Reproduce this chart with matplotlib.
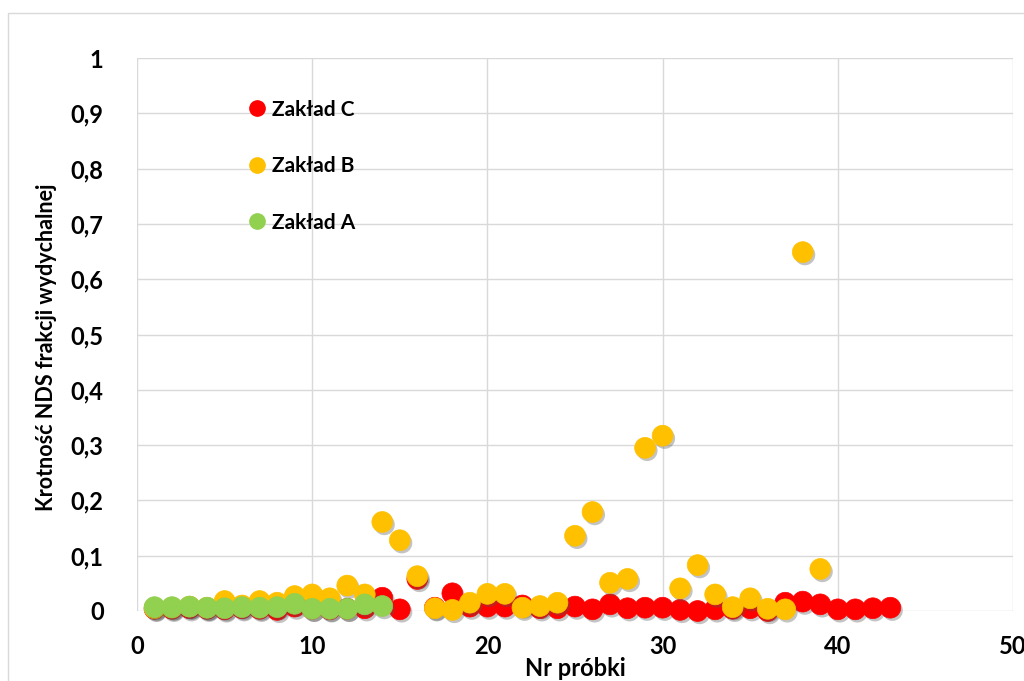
import matplotlib
matplotlib.use("Agg")
import matplotlib.pyplot as plt
import matplotlib.patheffects as pe
from matplotlib.lines import Line2D
from matplotlib.patches import Rectangle

plt.rcParams['font.family'] = ['Lato', 'DejaVu Sans']

# --- data ---
x_c = list(range(1, 44))
y_c = [0.004, 0.004, 0.005, 0.004, 0.003, 0.005, 0.004, 0.002, 0.008, 0.004,
       0.003, 0.004, 0.005, 0.024, 0.003, 0.058, 0.006, 0.032, 0.008, 0.008,
       0.008, 0.010, 0.005, 0.005, 0.008, 0.003, 0.012, 0.005, 0.006, 0.006,
       0.002, 0.000, 0.003, 0.004, 0.005, 0.000, 0.015, 0.017, 0.012, 0.003,
       0.003, 0.005, 0.006]

x_b = list(range(1, 40))
y_b = [0.005, 0.006, 0.008, 0.006, 0.018, 0.010, 0.018, 0.015, 0.027, 0.030,
       0.023, 0.046, 0.030, 0.161, 0.128, 0.063, 0.005, 0.002, 0.015, 0.031,
       0.031, 0.006, 0.009, 0.015, 0.136, 0.179, 0.051, 0.058, 0.295, 0.317,
       0.041, 0.083, 0.030, 0.007, 0.023, 0.004, 0.003, 0.649, 0.076]

x_a = list(range(1, 15))
y_a = [0.007, 0.007, 0.008, 0.006, 0.005, 0.007, 0.006, 0.007, 0.013, 0.004,
       0.004, 0.004, 0.012, 0.009]

names = ['Zakład C', 'Zakład B', 'Zakład A']
colors = ['#FF0000', '#FFC000', '#92D050']

xticks = [0, 10, 20, 30, 40, 50]
yticks = [0, 0.1, 0.2, 0.3, 0.4, 0.5, 0.6, 0.7, 0.8, 0.9, 1.0]
ytick_labels = ['0', '0,1', '0,2', '0,3', '0,4', '0,5', '0,6', '0,7', '0,8', '0,9', '1']

W, H = 1024, 681
fig = plt.figure(figsize=(W / 100, H / 100), dpi=100)
fig.patches.append(Rectangle((8 / W, -0.1), 1.2, 1 - 13 / H + 0.1,
                             transform=fig.transFigure, fill=False,
                             edgecolor='#D9D9D9', linewidth=1.0))

ax = fig.add_axes([137 / W, 1 - 611 / H, (1013 - 137) / W, (611 - 58) / H])
ax.set_xlim(0, 50)
ax.set_ylim(0, 1)

shadow = [pe.SimplePatchShadow(offset=(1.5, -2), shadow_rgbFace='#555555', alpha=0.35), pe.Normal()]

for xs, ys, c, z in [(x_c, y_c, colors[0], 3), (x_b, y_b, colors[1], 4), (x_a, y_a, colors[2], 5)]:
    ln, = ax.plot(xs, ys, linestyle='none', marker='o', markersize=15,
                  markerfacecolor=c, markeredgecolor=c, markeredgewidth=0.5,
                  zorder=z, clip_on=False)
    ln.set_path_effects(shadow)

ax.set_xticks(xticks)
ax.set_yticks(yticks)
ax.set_yticklabels(ytick_labels)
ax.grid(True, color='#D9D9D9', linewidth=1.0)
ax.set_axisbelow(True)
for s in ax.spines.values():
    s.set_visible(False)
ax.tick_params(length=0, labelsize=17)
ax.tick_params(axis='y', pad=24)
ax.tick_params(axis='x', pad=17)
for lab in ax.get_xticklabels() + ax.get_yticklabels():
    lab.set_fontweight('bold')

ax.set_xlabel('Nr próbki', fontsize=17, fontweight='bold')
ax.xaxis.set_label_coords(0.5, -0.083)
ax.set_ylabel('Krotność NDS frakcji wydychalnej', fontsize=15.5, fontweight='bold')
ax.yaxis.set_label_coords(-0.091, 0.476)

handles = [Line2D([], [], linestyle='none', marker='o', markersize=11,
                  markerfacecolor=c, markeredgecolor=c) for c in colors]
ax.legend(handles, names, loc='upper left', bbox_to_anchor=(0.1185, 0.9435),
          frameon=False, prop={'size': 15, 'weight': 'bold'},
          handlelength=0.6, handletextpad=0.4, labelspacing=1.75, borderpad=0)

fig.savefig('out.png', dpi=100)
